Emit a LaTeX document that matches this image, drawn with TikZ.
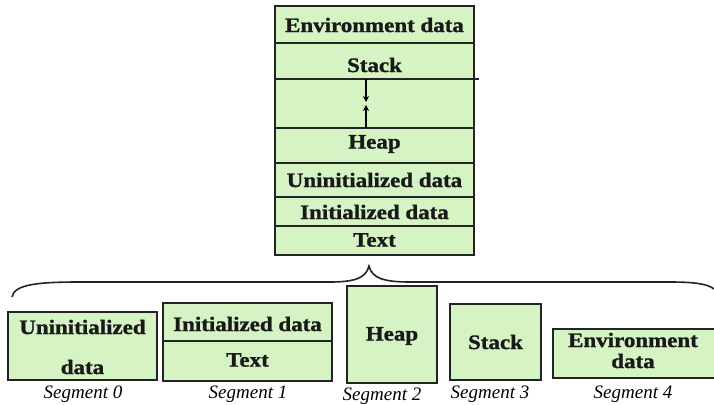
\documentclass[tikz,border=0pt]{standalone}
\usepackage{fontspec}
\setmainfont{Liberation Serif}
\newfontfamily\labf[FakeStretch=1.12,FakeBold=1.2]{Liberation Serif Bold}
\usetikzlibrary{arrows.meta}
\definecolor{boxfill}{RGB}{214,243,196}
\definecolor{boxline}{RGB}{35,35,35}
\tikzset{
  seg/.style={draw=boxline, line width=1.6pt, fill=boxfill, inner sep=0pt},
  lab/.style={font=\labf\fontsize{20.5}{22}\selectfont, text=black!90, inner sep=0pt},
  seglab/.style={font=\fontsize{19}{21}\selectfont\itshape, inner sep=0pt},
  arr/.style={line width=1.3pt, -{Stealth[length=6pt,width=6pt]}}
}
\begin{document}
\begin{tikzpicture}[x=1pt,y=-1pt]
\useasboundingbox (0,0) rectangle (714,404);
% top stack
\draw[seg] (275,6) rectangle (474,43);
\draw[seg] (275,43) rectangle (474,79);
\draw[seg] (275,79) rectangle (474,128);
\draw[seg] (275,128) rectangle (474,163);
\draw[seg] (275,163) rectangle (474,197);
\draw[seg] (275,197) rectangle (474,226);
\draw[seg] (275,226) rectangle (474,255);
\draw[line width=1.6pt, boxline] (474,79) -- (479,79);
\node[lab] (env) at (374.5,25) {Environment data};
\node[lab] (stk) at (374.5,65) {Stack};
\node[lab] (heap) at (374.5,144) {Heap};
\node[lab] (uni) at (374.5,180) {Uninitialized data};
\node[lab] (ini) at (374.5,212) {Initialized data};
\node[lab] (txt) at (374.5,240) {Text};
\coordinate (gtop) at (366,79);
\coordinate (gbot) at (366,128);
\coordinate (gmid1) at (366,102);
\coordinate (gmid2) at (366,105);
\draw[arr] (gtop) -- (gmid1);
\draw[arr] (gbot) -- (gmid2);
% brace
\coordinate (bl) at (12,297);
\coordinate (tip) at (369,266);
\coordinate (br) at (714,289);
\draw[line width=1.6pt, boxline] (bl) .. controls (14,284) and (40,282) .. (80,282)
  -- (330,282) .. controls (355,282) and (366,278) .. (tip)
  .. controls (372,278) and (383,282) .. (410,282)
  -- (670,282) .. controls (695,282) and (708,284) .. (br);
% bottom segments
\draw[seg] (8,312) rectangle (157,380);
\node[lab] (b0a) at (82.5,327) {Uninitialized};
\node[lab] (b0b) at (82.5,367) {data};
\draw[seg] (163,303) rectangle (332,341);
\draw[seg] (163,341) rectangle (332,381);
\node[lab] (b1a) at (247.5,324) {Initialized data};
\node[lab] (b1b) at (247.5,360) {Text};
\draw[seg] (347,286) rectangle (437,383);
\node[lab] (b2) at (392,336) {Heap};
\draw[seg] (450,304) rectangle (541,380);
\node[lab] (b3) at (495.5,342) {Stack};
\draw[seg] (553,329) rectangle (716,378);
\node[lab] (b4a) at (633,340) {Environment};
\node[lab] (b4b) at (633,361) {data};
\node[seglab] (s0) at (83,394) {Segment 0};
\node[seglab] (s1) at (248,394) {Segment 1};
\node[seglab] (s2) at (382,396) {Segment 2};
\node[seglab] (s3) at (490,394) {Segment 3};
\node[seglab] (s4) at (633,394) {Segment 4};
\end{tikzpicture}
\end{document}
